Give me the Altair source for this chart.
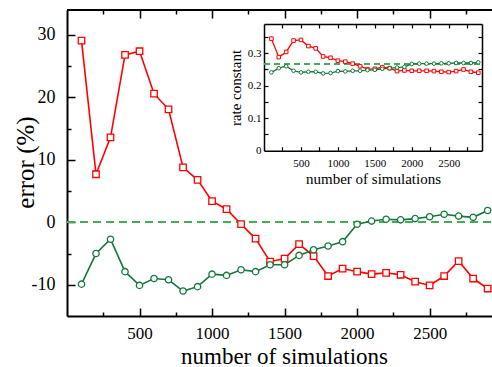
import altair as alt
import pandas as pd

# ---------------- data ----------------
sims = [100, 200, 300, 400, 500, 600, 700, 800, 900, 1000, 1100, 1200, 1300, 1400,
        1500, 1600, 1700, 1800, 1900, 2000, 2100, 2200, 2300, 2400, 2500, 2600,
        2700, 2800, 2900]
err_red = [29.1, 7.7, 13.6, 26.8, 27.4, 20.6, 18.1, 8.8, 6.8, 3.4, 2.1, -0.3, -2.6,
           -6.3, -5.8, -3.5, -5.4, -8.6, -7.4, -7.9, -8.3, -8.1, -8.4, -9.5, -10.1,
           -8.6, -6.2, -9.0, -10.6]
err_green = [-9.9, -5.0, -2.7, -7.9, -10.1, -9.0, -9.2, -11.0, -10.3, -8.3, -8.5,
             -7.6, -7.9, -6.8, -6.8, -5.3, -4.4, -3.8, -3.1, -0.3, 0.2, 0.5, 0.4,
             0.6, 0.9, 1.3, 1.0, 0.8, 1.9]
rate_red = [0.345, 0.288, 0.304, 0.339, 0.341, 0.322, 0.315, 0.290, 0.286, 0.277,
            0.274, 0.268, 0.260, 0.251, 0.252, 0.257, 0.254, 0.245, 0.247, 0.246,
            0.246, 0.246, 0.245, 0.243, 0.242, 0.245, 0.250, 0.243, 0.240]
rate_green = [0.241, 0.254, 0.260, 0.246, 0.241, 0.243, 0.243, 0.238, 0.239, 0.245,
              0.244, 0.246, 0.246, 0.248, 0.249, 0.252, 0.254, 0.256, 0.258, 0.267,
              0.268, 0.268, 0.268, 0.269, 0.269, 0.270, 0.270, 0.270, 0.272]
ref_error = 0.0
ref_rate = 0.267

x_major = [500, 1000, 1500, 2000, 2500]
x_minor = [250, 750, 1250, 1750, 2250, 2750]
y_major = [-10, 0, 10, 20, 30]
y_minor = [-5, 5, 15, 25]
ix_ticks = [250, 500, 750, 1000, 1250, 1500, 1750, 2000, 2250, 2500, 2750]
iy_labels = [0, 0.1, 0.2, 0.3]
iy_ticks = [0.05, 0.1, 0.15, 0.2, 0.25, 0.3, 0.35]

# ---------------- styling ----------------
W, H = 425, 306
X_MAX = 2930
Y_MIN, Y_MAX = -15, 34
IX_MAX = 2950
IY_MAX = 0.39
FONT = "Liberation Serif"
RED = "#ff0000"
GREEN = "#15783b"
DASH = "#45ab55"

main_red = pd.DataFrame({"n": sims, "v": err_red})
main_green = pd.DataFrame({"n": sims, "v": err_green})
ins_red = pd.DataFrame({"n": sims, "v": rate_red})
ins_green = pd.DataFrame({"n": sims, "v": rate_green})


def mx():
    return alt.Scale(domain=[0, X_MAX], range=[0, W], nice=False, zero=False)


def my():
    return alt.Scale(domain=[Y_MIN, Y_MAX], range=[H, 0], nice=False, zero=False)


def ix():
    return alt.Scale(domain=[0, IX_MAX], range=[197, 415], nice=False, zero=False)


def iy():
    return alt.Scale(domain=[0, IY_MAX], range=[140.7, 14], nice=False, zero=False)


def tick_axis(orient, values, offset, size, width=1.5):
    return alt.Axis(orient=orient, values=values, offset=offset, ticks=True,
                    tickSize=size, tickWidth=width, tickColor="black",
                    domain=False, labels=False, grid=False, title=None)


def domain_axis(orient, offset, width):
    return alt.Axis(orient=orient, offset=offset, ticks=False, tickSize=0,
                    domain=True, domainColor="black", domainWidth=width,
                    labels=False, grid=False, title=None)


# ---- main axes ----
main_x_lab = alt.Axis(orient="bottom", values=x_major, ticks=False, tickSize=0,
                      domain=True, domainColor="black", domainWidth=2,
                      labelFont=FONT, labelFontSize=17, labelColor="black",
                      labelPadding=9, grid=False, format="d",
                      title="number of simulations", titleFont=FONT,
                      titleFontSize=23, titleFontWeight="normal", titleColor="black",
                      titleX=217, titleY=47, titleAlign="center",
                      titleBaseline="alphabetic")
main_y_lab = alt.Axis(orient="left", values=y_major, ticks=False, tickSize=0,
                      domain=True, domainColor="black", domainWidth=2,
                      labelFont=FONT, labelFontSize=18, labelColor="black",
                      labelPadding=12, grid=False,
                      labelExpr="toString(datum.value)",
                      title="error (%)", titleFont=FONT, titleFontSize=25,
                      titleFontWeight="normal", titleColor="black",
                      titleX=-34, titleY=152, titleAngle=270, titleAlign="center",
                      titleBaseline="alphabetic")

# ---- inset axes ----
ins_x_lab = alt.Axis(orient="bottom", offset=-165.3, values=x_major, ticks=False,
                     tickSize=0, domain=True, domainColor="black", domainWidth=1.5,
                     labelFont=FONT, labelFontSize=11, labelColor="black",
                     labelPadding=7, grid=False, format="d",
                     title="number of simulations", titleFont=FONT,
                     titleFontSize=15, titleFontWeight="normal", titleColor="black",
                     titleX=306, titleY=32.6, titleAlign="center",
                     titleBaseline="alphabetic")
ins_y_lab = alt.Axis(orient="left", offset=-197, values=iy_labels, ticks=False,
                     tickSize=0, domain=True, domainColor="black", domainWidth=1.5,
                     labelFont=FONT, labelFontSize=11, labelColor="black",
                     labelPadding=3, format=".1~f", grid=False,
                     title="rate constant", titleFont=FONT, titleFontSize=15,
                     titleFontWeight="normal", titleColor="black",
                     titleX=-24, titleY=77.5, titleAngle=270, titleAlign="center",
                     titleBaseline="alphabetic")


def line(df, color, xs, ys, xaxis, yaxis, width=1.6):
    return alt.Chart(df).mark_line(color=color, strokeWidth=width).encode(
        x=alt.X("n:Q", scale=xs, axis=xaxis),
        y=alt.Y("v:Q", scale=ys, axis=yaxis),
    )


def points(df, color, shape, size, xs, ys, xaxis, yaxis, sw=1.3):
    return alt.Chart(df).mark_point(shape=shape, filled=True, fill="white",
                                    stroke=color, strokeWidth=sw, size=size,
                                    opacity=1).encode(
        x=alt.X("n:Q", scale=xs, axis=xaxis),
        y=alt.Y("v:Q", scale=ys, axis=yaxis),
    )


# ---------------- main layers ----------------
m_zero = alt.Chart(main_red).mark_rule(color=DASH, strokeWidth=1.5,
                                       strokeDash=[8, 5]).encode(
    x=alt.XDatum(0, type="quantitative", scale=mx(),
                 axis=tick_axis("top", x_minor, -4, 4)),
    x2=alt.X2Datum(X_MAX),
    y=alt.YDatum(ref_error, type="quantitative", scale=my(), axis=None),
)
m_top = alt.Chart(main_red).mark_rule(color="black", strokeWidth=2).encode(
    x=alt.XDatum(0, type="quantitative", scale=mx(), axis=None),
    x2=alt.X2Datum(X_MAX),
    y=alt.YDatum(Y_MAX, type="quantitative", scale=my(), axis=None),
)
m_red_line = line(main_red, RED, mx(), my(), main_x_lab, main_y_lab)
m_green_line = line(main_green, GREEN, mx(), my(),
                    tick_axis("bottom", x_minor, -4, 4),
                    tick_axis("left", y_minor, -4, 4))
m_red_pts = points(main_red, RED, "square", 42, mx(), my(),
                   tick_axis("bottom", x_major, -8, 8),
                   tick_axis("left", y_major, -8, 8))
m_green_pts = points(main_green, GREEN, "circle", 40, mx(), my(),
                     tick_axis("top", x_major, -8, 8), None)

# ---------------- inset layers ----------------
i_ref = alt.Chart(ins_red).mark_rule(color=DASH, strokeWidth=1.3,
                                     strokeDash=[6, 4]).encode(
    x=alt.XDatum(0, type="quantitative", scale=ix(), axis=None),
    x2=alt.X2Datum(IX_MAX),
    y=alt.YDatum(ref_rate, type="quantitative", scale=iy(), axis=None),
)
i_red_line = line(ins_red, RED, ix(), iy(), ins_x_lab, ins_y_lab, 1.3)
i_green_line = line(ins_green, GREEN, ix(), iy(),
                    domain_axis("top", -14, 1.5),
                    domain_axis("right", -10, 1.5), 1.3)
i_red_pts = points(ins_red, RED, "square", 13, ix(), iy(),
                   tick_axis("bottom", ix_ticks, -169.3, 4, 1.2),
                   tick_axis("left", iy_ticks, -201, 4, 1.2), 1.0)
i_green_pts = points(ins_green, GREEN, "circle", 13, ix(), iy(),
                     tick_axis("top", ix_ticks, -18, 4, 1.2),
                     tick_axis("right", iy_ticks, -14, 4, 1.2), 1.0)

chart = alt.layer(
    m_zero, m_top, m_red_line, m_green_line, m_red_pts, m_green_pts,
    i_ref, i_red_line, i_green_line, i_red_pts, i_green_pts,
).resolve_scale(
    x="independent", y="independent"
).resolve_axis(
    x="independent", y="independent"
).properties(
    width=W, height=H,
    autosize=alt.AutoSizeParams(type="none"),
    padding={"left": 67, "top": 10, "right": 0, "bottom": 51},
    background="white",
).configure_view(
    stroke=None
).configure_axis(
    labelFont=FONT, titleFont=FONT
)

chart.save("out.html", embed_options={"renderer": "svg", "actions": False})
